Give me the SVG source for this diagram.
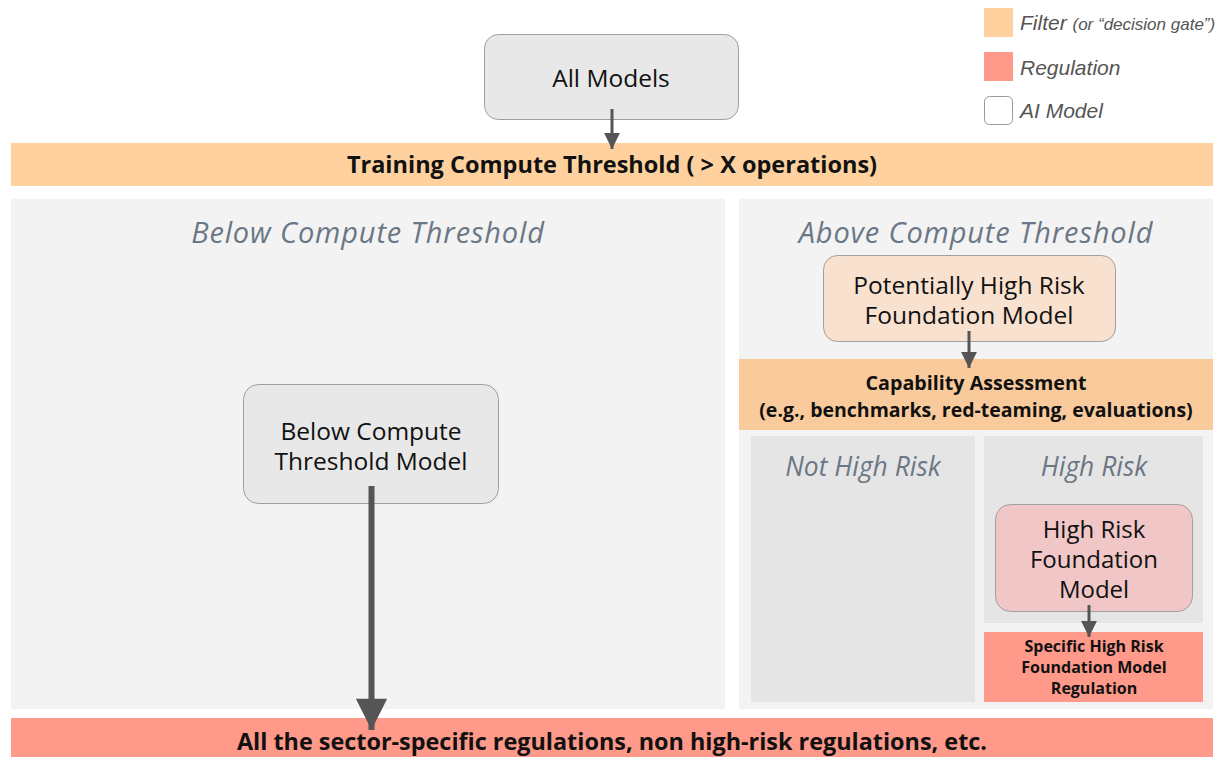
<svg xmlns="http://www.w3.org/2000/svg" width="1223" height="757" viewBox="0 0 1223 757">
<defs>
<style>
.t{font-family:"Open Sans",Lato,"Liberation Sans",sans-serif;fill:#111;text-anchor:middle}
.b{font-weight:bold}
.sec{font-family:"Open Sans",Lato,"Liberation Sans",sans-serif;font-style:italic;fill:#6b7785;text-anchor:middle}
.big{font-size:29px;letter-spacing:0.85px}
.small{font-size:26.4px}
.leg{font-family:"Liberation Sans",Arial,sans-serif;font-style:italic;fill:#555;font-size:21px}
.filter{fill:#fed19f}
.cap{fill:#f9cb9c}
.reg{fill:#ff998a}
.conn{stroke:#555;fill:none}
</style>
<marker id="ah" viewBox="0 0 10 10" refX="10" refY="5" markerWidth="5.3" markerHeight="5.3" markerUnits="strokeWidth" orient="auto"><path d="M0,0 L10,5 L0,10 z" fill="#555"/></marker>
<marker id="ahb" viewBox="0 0 10 10" refX="10" refY="5" markerWidth="6.7" markerHeight="5.2" markerUnits="strokeWidth" orient="auto"><path d="M0,0 L10,5 L0,10 z" fill="#555"/></marker>
</defs>
<rect width="1223" height="757" fill="#fff"/>

<g id="legend">
<rect x="984" y="8" width="29" height="29" class="filter"/>
<text x="1020" y="30" class="leg">Filter <tspan font-size="17">(or “decision gate”)</tspan></text>
<rect x="984" y="52" width="29" height="29" class="reg"/>
<text x="1020" y="75" class="leg">Regulation</text>
<rect x="984.5" y="96.5" width="28" height="28" rx="5" fill="#fff" stroke="#999"/>
<text x="1020" y="118" class="leg">AI Model</text>
</g>

<g id="below-panel">
<rect x="11" y="199" width="714" height="510" fill="#f3f3f3"/>
<text x="368" y="243" class="sec big">Below Compute Threshold</text>
</g>
<g id="above-panel">
<rect x="739" y="199" width="474" height="510" fill="#f3f3f3"/>
<text x="976" y="243" class="sec big">Above Compute Threshold</text>
</g>
<g id="not-high-risk">
<rect x="751" y="436" width="224" height="266" fill="#e5e5e5"/>
<text x="863" y="476" class="sec small">Not High Risk</text>
</g>
<g id="high-risk">
<rect x="984" y="436" width="219" height="187" fill="#e5e5e5"/>
<text x="1094" y="476" class="sec small">High Risk</text>
</g>

<g id="training-threshold">
<rect x="11" y="143" width="1202" height="43" class="filter"/>
<text x="612" y="173" class="t b" font-size="23.5">Training Compute Threshold ( &gt; X operations)</text>
</g>

<g id="all-models">
<rect x="484.5" y="34.5" width="254" height="85" rx="14" fill="#e8e8e8" stroke="#9e9e9e"/>
<text x="611" y="87" class="t" font-size="24.5">All Models</text>
</g>

<g id="below-model">
<rect x="243.5" y="384.5" width="255" height="119" rx="15" fill="#e8e8e8" stroke="#9e9e9e"/>
<text x="371" y="440" class="t" font-size="24.5">Below Compute</text>
<text x="371" y="470" class="t" font-size="24.5">Threshold Model</text>
</g>

<g id="potential-model">
<rect x="823.5" y="255.5" width="292" height="86" rx="14" fill="#f9e1d0" stroke="#a0a0a0"/>
<text x="969" y="294" class="t" font-size="24.5">Potentially High Risk</text>
<text x="969" y="324" class="t" font-size="24.5">Foundation Model</text>
</g>

<g id="capability-assessment">
<rect x="739" y="359" width="474" height="71" class="cap"/>
<text x="976" y="390" class="t b" font-size="19.7">Capability Assessment</text>
<text x="976" y="417" class="t b" font-size="19.5">(e.g., benchmarks, red-teaming, evaluations)</text>
</g>

<g id="high-risk-model">
<rect x="995.5" y="504.5" width="197" height="107" rx="15" fill="#f0c6c6" stroke="#a0a0a0"/>
<text x="1094" y="538" class="t" font-size="24">High Risk</text>
<text x="1094" y="568" class="t" font-size="24">Foundation</text>
<text x="1094" y="598" class="t" font-size="24">Model</text>
</g>

<g id="specific-regulation">
<rect x="984" y="632" width="219" height="70" class="reg"/>
<text x="1094" y="652" class="t b" font-size="16">Specific High Risk</text>
<text x="1094" y="673" class="t b" font-size="16">Foundation Model</text>
<text x="1094" y="694" class="t b" font-size="16">Regulation</text>
</g>

<g id="sector-regulations">
<rect x="11" y="718" width="1202" height="39" class="reg"/>
<text x="612" y="750" class="t b" font-size="23.4">All the sector-specific regulations, non high-risk regulations, etc.</text>
</g>

<g id="connectors">
<line x1="612" y1="109" x2="612" y2="149" class="conn" stroke-width="3" marker-end="url(#ah)"/>
<line x1="969" y1="331" x2="969" y2="368" class="conn" stroke-width="3" marker-end="url(#ah)"/>
<line x1="1089" y1="605" x2="1089" y2="637" class="conn" stroke-width="3" marker-end="url(#ah)"/>
<line x1="371.5" y1="486" x2="371.5" y2="730" class="conn" stroke-width="6" marker-end="url(#ahb)"/>
</g>
</svg>
